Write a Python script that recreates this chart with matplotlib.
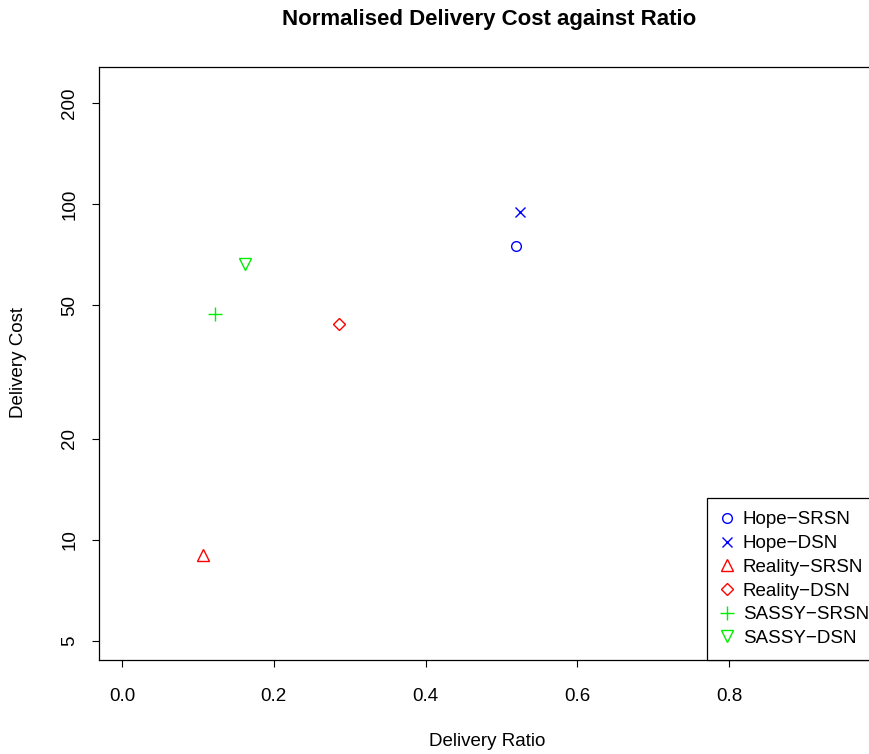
import numpy as np
import matplotlib.pyplot as plt

plt.rcParams['font.family'] = ['Liberation Sans', 'DejaVu Sans']

# values
labels = ["Hope\u2212SRSN", "Hope\u2212DSN", "Reality\u2212SRSN", "Reality\u2212DSN",
          "SASSY\u2212SRSN", "SASSY\u2212DSN"]
ratio = [0.519, 0.525, 0.107, 0.286, 0.123, 0.162]
cost = [75.0, 94.5, 9.0, 44.0, 47.0, 66.3]
colours = ["blue", "blue", "red", "red", "#00ee00", "#00ee00"]
markers = ["o", "x", "^", "D", "+", "v"]
sizes = [7, 7, 8, 6, 9.5, 8]

xticks = [0.0, 0.2, 0.4, 0.6, 0.8]
yticks = [5, 10, 20, 50, 100, 200]

W, H = 869, 754
fig = plt.figure(figsize=(W / 100, H / 100), dpi=100)
ax = fig.add_axes([99 / W, (H - 660) / H, 772 / W, (660 - 67) / H])

for i in range(len(labels)):
	ax.plot(ratio[i], cost[i], linestyle="none", marker=markers[i], color=colours[i],
		markersize=sizes[i], markerfacecolor="none", markeredgewidth=1.0, label=labels[i])

ax.set_yscale("log")
ax.set_xlim(-0.0303, 0.987)
ax.set_ylim(4.39, 256)
ax.set_xticks(xticks)
ax.set_xticklabels(["%.1f" % v for v in xticks])
ax.set_yticks(yticks)
ax.set_yticklabels([str(v) for v in yticks], rotation=90, va="center")
ax.minorticks_off()
ax.tick_params(direction="out", length=5, width=0.8, labelsize=13.5)
ax.tick_params(axis="x", pad=15)
ax.tick_params(axis="y", pad=10)
for s in ax.spines.values():
	s.set_linewidth(0.9)

fig.text(487 / W, 1 - 742 / H, "Delivery Ratio", ha="center", va="center", fontsize=13.5)
fig.text(19 / W, 1 - 363 / H, "Delivery Cost", ha="center", va="center", fontsize=13.5,
	rotation=90)
fig.text(489 / W, 1 - 19 / H, "Normalised Delivery Cost against Ratio", ha="center",
	va="center", fontsize=16, fontweight="bold")

leg = fig.legend(loc="lower left", bbox_to_anchor=(707 / W, (H - 660) / H), borderaxespad=0,
	fancybox=False, edgecolor="black", framealpha=1, fontsize=13.5, handlelength=0.75,
	handletextpad=0.45, labelspacing=0.35, borderpad=0.7, numpoints=1)
leg.get_frame().set_linewidth(0.9)

fig.savefig("out.png", dpi=100)
